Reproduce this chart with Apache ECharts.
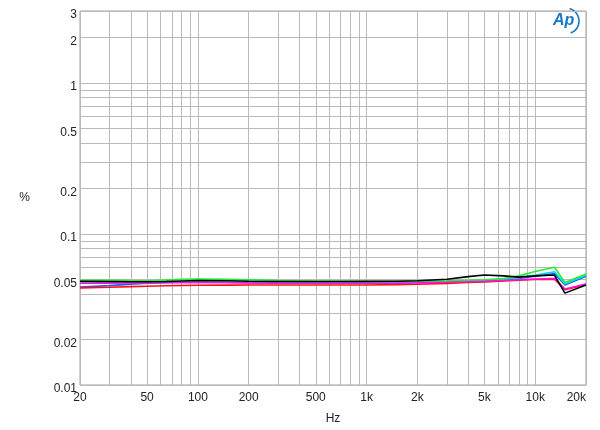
<!DOCTYPE html>
<html>
<head>
<meta charset="utf-8">
<script src="https://cdn.jsdelivr.net/npm/echarts@6/dist/echarts.min.js"></script>
<style>html,body{margin:0;padding:0;background:#fff;}#c{width:600px;height:430px;}</style>
</head>
<body>
<div id="c"></div>
<script>
// ---- data ----
var freqs = [20, 30, 40, 50, 65, 80, 100, 150, 200, 300, 500, 700, 1000, 1500, 2000, 3000, 4000, 5000, 6500, 8000, 10000, 13000, 15000, 20000];
var blackVals   = [0.0487,0.0485,0.0483,0.0483,0.0485,0.0489,0.0492,0.0490,0.0487,0.0485,0.0485,0.0485,0.0486,0.0487,0.0490,0.0502,0.0522,0.0535,0.0528,0.0518,0.0528,0.0535,0.0406,0.0459];
var greenVals   = [0.0494,0.0493,0.0491,0.0490,0.0495,0.0502,0.0503,0.0501,0.0497,0.0492,0.0489,0.0488,0.0487,0.0487,0.0488,0.0490,0.0494,0.0498,0.0508,0.0528,0.0565,0.0602,0.0477,0.0544];
var cyanVals    = [0.0480,0.0479,0.0478,0.0478,0.0478,0.0479,0.0479,0.0479,0.0478,0.0477,0.0477,0.0477,0.0477,0.0478,0.0480,0.0484,0.0488,0.0492,0.0500,0.0512,0.0535,0.0562,0.0467,0.0533];
var blueVals    = [0.0446,0.0455,0.0466,0.0472,0.0476,0.0477,0.0477,0.0477,0.0476,0.0475,0.0475,0.0475,0.0475,0.0476,0.0478,0.0482,0.0486,0.0490,0.0498,0.0508,0.0525,0.0548,0.0460,0.0525];
var magentaVals = [0.0472,0.0473,0.0474,0.0475,0.0477,0.0478,0.0478,0.0477,0.0475,0.0473,0.0472,0.0472,0.0472,0.0473,0.0475,0.0479,0.0483,0.0487,0.0492,0.0498,0.0504,0.0508,0.0432,0.0466];
var redVals     = [0.0440,0.0444,0.0448,0.0451,0.0454,0.0456,0.0458,0.0459,0.0460,0.0460,0.0460,0.0460,0.0460,0.0462,0.0465,0.0471,0.0477,0.0482,0.0488,0.0494,0.0500,0.0502,0.0428,0.0462];

var xGrid = [20,30,40,50,60,70,80,90,100,200,300,400,500,600,700,800,900,1000,2000,3000,4000,5000,6000,7000,8000,9000,10000,20000];
var yGrid = [0.01,0.02,0.03,0.04,0.05,0.06,0.07,0.08,0.09,0.1,0.2,0.3,0.4,0.5,0.6,0.7,0.8,0.9,1,2,3];
var xTickVals = [20,50,100,200,500,1000,2000,5000,10000,20000];
var xTickText = ['20','50','100','200','500','1k','2k','5k','10k','20k'];
var yTickVals = [0.01,0.02,0.05,0.1,0.2,0.5,1,2,3];
var yTickText = ['0.01','0.02','0.05','0.1','0.2','0.5','1','2','3'];

// ---- build ----
var FONT = 'Liberation Sans, Arial, sans-serif';
function pairs(vals){ return freqs.map(function(f,i){ return [f, vals[i]]; }); }

var markData = [];
xGrid.forEach(function(v){
  var k = xTickVals.indexOf(v);
  var item = { xAxis: v };
  if (k >= 0) {
    item.label = { show: true, position: 'start', formatter: xTickText[k], distance: 7,
      color: '#222', fontSize: 12, fontFamily: FONT };
    if (v === 20000) { item.label.align = 'right'; }
  }
  markData.push(item);
});
yGrid.forEach(function(v){
  var k = yTickVals.indexOf(v);
  var item = { yAxis: v };
  if (k >= 0) {
    item.label = { show: true, position: 'start', formatter: yTickText[k], distance: 3,
      verticalAlign: 'top', lineHeight: 8,
      color: '#222', fontSize: 12, fontFamily: FONT };
  }
  markData.push(item);
});

function mkSeries(name, vals, color, withMarks){
  var s = {
    name: name, type: 'line', data: pairs(vals), showSymbol: false, symbol: 'none',
    lineStyle: { color: color, width: 1.6 }, itemStyle: { color: color },
    animation: false, silent: true, z: 3
  };
  if (withMarks) {
    s.markLine = {
      silent: true, symbol: 'none', animation: false, z: 1,
      lineStyle: { color: '#bababa', width: 1, type: 'solid' },
      label: { show: false },
      emphasis: { disabled: true },
      data: markData
    };
  }
  return s;
}

var chart = echarts.init(document.getElementById('c'), null, { renderer: 'canvas' });
chart.setOption({
  backgroundColor: '#fff',
  animation: false,
  grid: { left: 80, right: 14, top: 11, bottom: 42, show: true, borderColor: '#a0a0a0', borderWidth: 1, containLabel: false },
  xAxis: {
    type: 'log', logBase: 10, min: 20, max: 20000,
    name: 'Hz', nameLocation: 'middle', nameGap: 28,
    nameTextStyle: { color: '#222', fontSize: 12, fontFamily: FONT },
    axisLine: { show: false }, axisTick: { show: false }, axisLabel: { show: false },
    splitLine: { show: false }, minorSplitLine: { show: false }
  },
  yAxis: {
    type: 'log', logBase: 10, min: 0.01, max: 3,
    name: '%', nameLocation: 'middle', nameGap: 50, nameRotate: 0,
    nameTextStyle: { color: '#222', fontSize: 12, fontFamily: FONT, padding: [4, 0, 0, 0] },
    axisLine: { show: false }, axisTick: { show: false }, axisLabel: { show: false },
    splitLine: { show: false }, minorSplitLine: { show: false }
  },
  series: [
    mkSeries('blue', blueVals, '#3050ff', true),
    mkSeries('cyan', cyanVals, '#00d8f0', false),
    mkSeries('green', greenVals, '#20f030', false),
    mkSeries('red', redVals, '#ff1010', false),
    mkSeries('magenta', magentaVals, '#ff10e0', false),
    mkSeries('black', blackVals, '#000000', false)
  ],
  graphic: [
    { type: 'arc', shape: { cx: 566, cy: 21, r: 13, startAngle: -1.3, endAngle: 1.2 },
      style: { stroke: '#1a78c8', lineWidth: 1.6, fill: null }, silent: true },
    { type: 'text', left: 553, top: 13,
      style: { text: 'Ap', fill: '#1a78c8', font: 'italic bold 16px ' + FONT }, silent: true }
  ]
});
</script>
</body>
</html>
